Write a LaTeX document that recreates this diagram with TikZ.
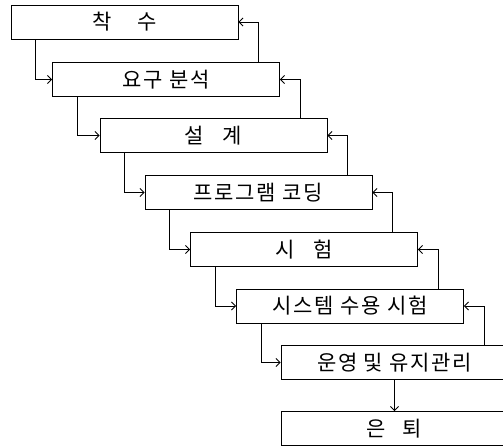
\documentclass[tikz,border=0pt]{standalone}
\usepackage{fontspec}
\usepackage{tikz}
\usetikzlibrary{arrows.meta,calc}
\newfontfamily\krfont[LetterSpace=8]{Noto Sans CJK KR}

\begin{document}
\begin{tikzpicture}[x=1pt,y=-1pt,font=\krfont\fontsize{21}{24}\selectfont,
  stage/.style={draw,line width=0.9pt,minimum width=227pt,minimum height=34pt,inner sep=0pt},
  flow/.style={-{Straight Barb[length=4pt,width=8pt]},line width=0.8pt}]
  \useasboundingbox (0,0) rectangle (503,446);
  \clip (0,0) rectangle (503,446);
  \foreach \i/\x/\y/\lab in {1/124.5/22/{착\hspace{1.2em}수},2/166/79.5/{요구 분석},3/213.5/135.5/{설\hspace{0.9em}계},
      4/258.5/192.5/{프로그램 코딩},5/304/249.5/{시\hspace{0.9em}험},6/350/306/{시스템 수용 시험},
      7/394.5/362.5/{운영 및 유지관리},8/394.5/428.5/{은\hspace{0.8em}퇴}}
    \node[stage] (b\i) at (\x,\y) {\lab};
  \foreach \i/\j in {1/2,2/3,3/4,4/5,5/6,6/7} {
    \coordinate (r\i) at ($(b\i.east)+(20,0)$);
    \draw[flow] ($(b\i.south west)+(25,0)$) |- (b\j.west);
    \draw[flow] (r\i |- b\j.north) |- (b\i.east);
  }
  \draw[flow] (b7) -- (b8);
\end{tikzpicture}
\end{document}
